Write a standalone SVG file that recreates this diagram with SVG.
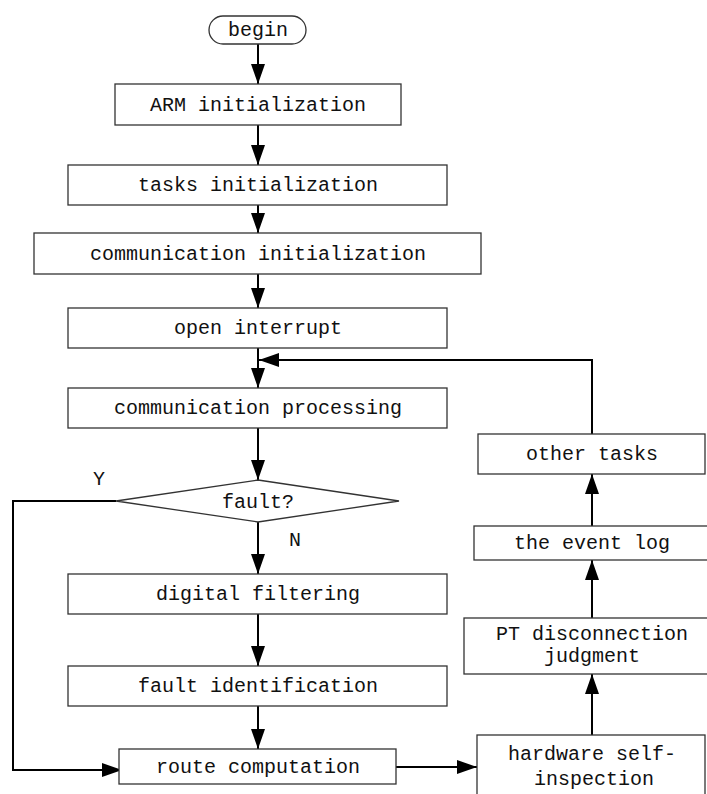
<svg xmlns="http://www.w3.org/2000/svg" width="707" height="794" viewBox="0 0 707 794">
<style>
.box{fill:#fff;stroke:#333;stroke-width:1.3}
.t{font-family:"Liberation Mono",monospace;font-size:20px;fill:#111;text-anchor:middle}
.c{fill:none;stroke:#000;stroke-width:2}
</style>
<defs>
<marker id="ah" viewBox="0 0 20 14" refX="20" refY="7" markerWidth="20" markerHeight="14" markerUnits="userSpaceOnUse" orient="auto">
<path d="M0,0 L20,7 L0,14 Z" fill="#000"/>
</marker>
</defs>
<rect width="707" height="794" fill="#fff"/>
<g id="connectors">
<line class="c" x1="258" y1="44" x2="258" y2="84" marker-end="url(#ah)"/>
<line class="c" x1="258" y1="125" x2="258" y2="165" marker-end="url(#ah)"/>
<line class="c" x1="258" y1="205" x2="258" y2="233" marker-end="url(#ah)"/>
<line class="c" x1="258" y1="274" x2="258" y2="308" marker-end="url(#ah)"/>
<line class="c" x1="258" y1="348" x2="258" y2="388" marker-end="url(#ah)"/>
<line class="c" x1="258" y1="428" x2="258" y2="480" marker-end="url(#ah)"/>
<line class="c" x1="258" y1="522" x2="258" y2="574" marker-end="url(#ah)"/>
<line class="c" x1="258" y1="614" x2="258" y2="666" marker-end="url(#ah)"/>
<line class="c" x1="258" y1="706" x2="258" y2="749" marker-end="url(#ah)"/>
<polyline class="c" points="116,501 13,501 13,770 122,770" marker-end="url(#ah)"/>
<line class="c" x1="396" y1="767" x2="477" y2="767" marker-end="url(#ah)"/>
<line class="c" x1="592" y1="735" x2="592" y2="674" marker-end="url(#ah)"/>
<line class="c" x1="592" y1="618" x2="592" y2="560" marker-end="url(#ah)"/>
<line class="c" x1="592" y1="526" x2="592" y2="474" marker-end="url(#ah)"/>
<polyline class="c" points="592,434 592,360 259,360" marker-end="url(#ah)"/>
</g>
<g id="begin">
<rect class="box" x="209" y="16" width="97" height="28" rx="14" ry="14"/>
<text class="t" x="258" y="36">begin</text>
</g>
<g id="arm-init">
<rect class="box" x="115" y="84" width="286" height="41"/>
<text class="t" x="258" y="111">ARM initialization</text>
</g>
<g id="tasks-init">
<rect class="box" x="68" y="165" width="379" height="40"/>
<text class="t" x="258" y="191">tasks initialization</text>
</g>
<g id="comm-init">
<rect class="box" x="34" y="233" width="447" height="41"/>
<text class="t" x="258" y="260">communication initialization</text>
</g>
<g id="open-interrupt">
<rect class="box" x="68" y="308" width="379" height="40"/>
<text class="t" x="258" y="334">open interrupt</text>
</g>
<g id="comm-processing">
<rect class="box" x="68" y="388" width="379" height="40"/>
<text class="t" x="258" y="414">communication processing</text>
</g>
<g id="fault">
<polygon class="box" points="258,480 399,501 258,522 116,501"/>
<text class="t" x="258" y="508">fault?</text>
<text class="t" x="99" y="485">Y</text>
<text class="t" x="295" y="546">N</text>
</g>
<g id="digital-filtering">
<rect class="box" x="68" y="574" width="379" height="40"/>
<text class="t" x="258" y="600">digital filtering</text>
</g>
<g id="fault-identification">
<rect class="box" x="68" y="666" width="379" height="40"/>
<text class="t" x="258" y="692">fault identification</text>
</g>
<g id="route-computation">
<rect class="box" x="119" y="749" width="277" height="35"/>
<text class="t" x="258" y="773">route computation</text>
</g>
<g id="hardware">
<rect class="box" x="477" y="735" width="228" height="70"/>
<text class="t" x="592" y="760">hardware self-</text>
<text class="t" x="594" y="785">inspection</text>
</g>
<g id="pt">
<rect class="box" x="464" y="618" width="260" height="56"/>
<text class="t" x="592" y="640">PT disconnection</text>
<text class="t" x="592" y="662">judgment</text>
</g>
<g id="event-log">
<rect class="box" x="474" y="526" width="250" height="34"/>
<text class="t" x="592" y="549">the event log</text>
</g>
<g id="other-tasks">
<rect class="box" x="478" y="434" width="227" height="40"/>
<text class="t" x="592" y="460">other tasks</text>
</g>
</svg>
